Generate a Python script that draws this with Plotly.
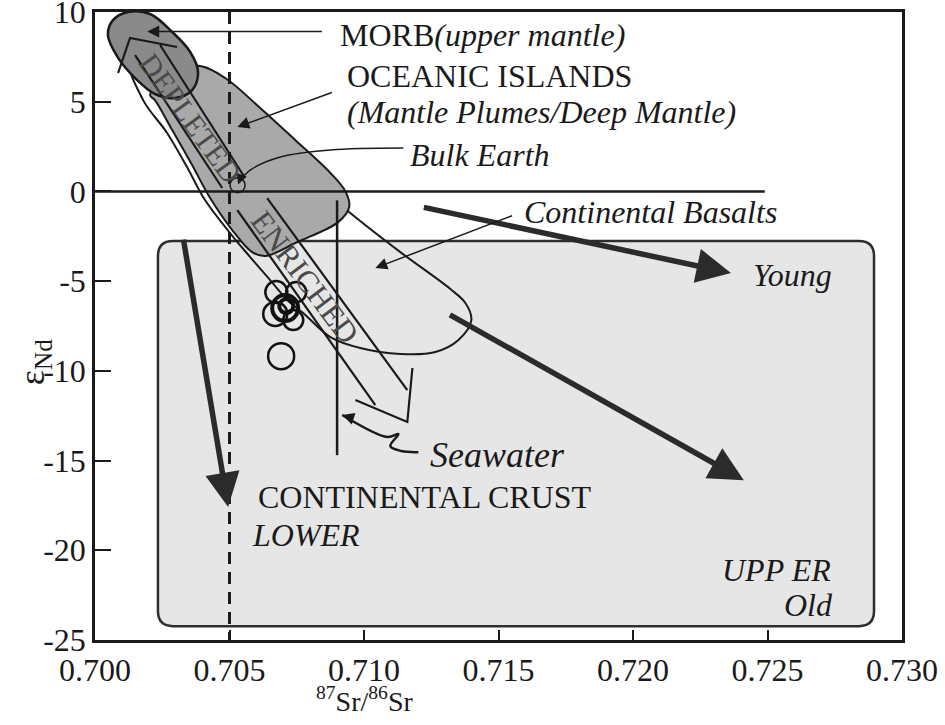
import plotly.graph_objects as go

SERIF = "Liberation Serif, Times New Roman, serif"
INK = "#1a1a1a"

# axes
x_ticks = [0.700, 0.705, 0.710, 0.715, 0.720, 0.725, 0.730]
x_ticktext = ["0.700", "0.705", "0.710", "0.715", "0.720", "0.725", "0.730"]
y_ticks = [10, 5, 0, -5, -10, -15, -20, -25]
y_ticktext = ["10", "5", "0", "-5", "-10", "-15", "-20", "-25"]

# field outlines (87Sr/86Sr, eps Nd)
morb_x = [0.70048, 0.70067, 0.70123, 0.70205, 0.70287, 0.70354, 0.70383, 0.70361,
          0.70298, 0.70223, 0.70149, 0.70086, 0.70048]
morb_y = [8.72, 9.55, 10.0, 9.89, 8.89, 7.77, 6.66, 5.65,
          5.21, 5.43, 6.32, 7.44, 8.72]

oib_x = [0.70205, 0.70279, 0.70391, 0.70484, 0.70614, 0.70744, 0.70875, 0.70931, 0.70945,
         0.70904, 0.70752, 0.70633, 0.70584, 0.70510, 0.70428, 0.70361, 0.70287, 0.70223, 0.70205]
oib_y = [5.37, 6.77, 6.99, 6.32, 4.65, 2.87, 1.03, 0.0, -0.87,
         -1.71, -2.82, -3.60, -3.38, -2.15, -0.37, 1.47, 3.42, 5.09, 5.37]

cb_x = [0.70130, 0.70179, 0.70268, 0.70342, 0.70409, 0.70502, 0.70577, 0.70651, 0.70715, 0.70774,
        0.70875, 0.70986, 0.71135, 0.71265, 0.71351, 0.71399, 0.71377, 0.71321, 0.71135, 0.70949,
        0.70763, 0.70465, 0.70242, 0.70130]
cb_y = [7.32, 5.09, 3.26, 1.36, -0.48, -2.32, -3.66, -4.94, -6.05, -6.78,
        -8.12, -8.73, -9.06, -8.95, -8.28, -7.17, -6.22, -5.44, -3.38, -1.20,
        1.19, 5.37, 7.60, 7.32]

# mantle array (double-line arrow, depleted / enriched)
mantle_x = [0.70086, 0.70130, 0.70305, None, 0.70149, 0.70473, None, 0.70242, 0.70558, None,
            0.70529, 0.71042, None, 0.70640, 0.71161, None, 0.70968, 0.71161, 0.71180]
mantle_y = [6.60, 8.55, 8.05, None, 7.60, 0.19, None, 8.16, 0.75, None,
            -1.04, -11.91, None, -0.37, -11.07, None, -11.63, -12.85, -9.84]

# data circles
circ_x = [0.70674, 0.70748, 0.70670, 0.70737, 0.70707, 0.70711, 0.70692]
circ_y = [-5.61, -5.61, -6.83, -7.17, -6.50, -6.39, -9.18]

bulk_earth = [0.70530, 0.35]

# reference lines
zero_x = [0.700, 0.7249]
zero_y = [0, 0]
be_line_x = [0.705, 0.705]
be_line_y = [10, -25]
sw_x = [0.709, 0.709]
sw_y = [-0.5, -14.7]

# pointer curves
squig_x = [0.70919, 0.71087, 0.71128, 0.71098, 0.71139, 0.71202]
squig_y = [-12.46, -13.69, -13.52, -14.19, -14.47, -14.53]
be_ptr_x = [0.71146, 0.70875, 0.70689, 0.70577, 0.70540]
be_ptr_y = [2.42, 2.31, 1.92, 1.19, 0.6]

# continental crust box
crust_x = [0.70234, 0.72896]
crust_y = [-24.23, -2.76]

# arrows: [tail, tip]
young_x, young_y = [0.71217, 0.72364], [-0.87, -4.55]
old_x, old_y = [0.71314, 0.72412], [-6.83, -16.09]
lower_x, lower_y = [0.70328, 0.70495], [-2.60, -17.59]
morb_ptr_x, morb_ptr_y = [0.70849, 0.70194], [8.92, 8.92]
oib_ptr_x, oib_ptr_y = [0.70886, 0.70529], [5.54, 3.59]
cb_ptr_x, cb_ptr_y = [0.71556, 0.71042], [-1.32, -4.27]
sw_ptr_x, sw_ptr_y = [0.70960, 0.70919], [-12.66, -12.46]
be_tip_x, be_tip_y = [0.70545, 0.70532], [0.9, 0.38]


def line_trace(x, y, width=2, dash="solid", spline=False, fill=None):
    return go.Scatter(
        x=x, y=y, mode="lines",
        line=dict(color=INK, width=width, dash=dash,
                  shape="spline" if spline else "linear", smoothing=1),
        fill="toself" if fill else "none", fillcolor=fill,
        hoverinfo="skip", showlegend=False)


fig = go.Figure()

# rounded crust box
x0, x1 = crust_x
y0, y1 = crust_y
rx, ry = 0.00056, 0.84
path = (f"M{x0 + rx},{y0} L{x1 - rx},{y0} Q{x1},{y0} {x1},{y0 + ry} "
        f"L{x1},{y1 - ry} Q{x1},{y1} {x1 - rx},{y1} L{x0 + rx},{y1} "
        f"Q{x0},{y1} {x0},{y1 - ry} L{x0},{y0 + ry} Q{x0},{y0} {x0 + rx},{y0} Z")
fig.add_shape(type="path", path=path, xref="x", yref="y", layer="below",
              fillcolor="#e6e6e6", line=dict(color="#2e2e2e", width=2.5))

fig.add_trace(line_trace(cb_x, cb_y, width=2, spline=True))
fig.add_trace(line_trace(oib_x, oib_y, width=2, spline=True, fill="#a9a9a9"))
fig.add_trace(line_trace(morb_x, morb_y, width=2.5, spline=True, fill="#8a8a8a"))
fig.add_trace(line_trace(mantle_x, mantle_y, width=2.2))
fig.add_trace(line_trace(sw_x, sw_y, width=2.5))
fig.add_trace(line_trace(zero_x, zero_y, width=2.5))
fig.add_trace(line_trace(be_line_x, be_line_y, width=3, dash="12px,8px"))
fig.add_trace(line_trace(squig_x, squig_y, width=2.5, spline=True))
fig.add_trace(line_trace(be_ptr_x, be_ptr_y, width=1.5, spline=True))

fig.add_trace(go.Scatter(
    x=circ_x, y=circ_y, mode="markers", hoverinfo="skip", showlegend=False,
    marker=dict(symbol="circle-open", color="#111111", opacity=1,
                size=[22, 20, 24, 20, 26, 14, 26],
                line=dict(color="#111111", width=[2.5, 2.5, 2.5, 2.5, 4, 4, 2.5]))))
fig.add_trace(go.Scatter(
    x=[bulk_earth[0]], y=[bulk_earth[1]], mode="markers", hoverinfo="skip", showlegend=False,
    marker=dict(symbol="circle-open", color=INK, opacity=1, size=15,
                line=dict(color=INK, width=1.5))))


def arrow(xs, ys, width, size, head=2, color=INK):
    fig.add_annotation(x=xs[1], y=ys[1], ax=xs[0], ay=ys[0],
                       xref="x", yref="y", axref="x", ayref="y", text="",
                       showarrow=True, arrowhead=head, arrowsize=size,
                       arrowwidth=width, arrowcolor=color, standoff=0)


arrow(young_x, young_y, 5.5, 1.25, color="#2b2b2b")
arrow(old_x, old_y, 5.5, 1.25, color="#2b2b2b")
arrow(lower_x, lower_y, 5.5, 1.25, color="#2b2b2b")
arrow(morb_ptr_x, morb_ptr_y, 1.5, 1.6)
arrow(oib_ptr_x, oib_ptr_y, 1.5, 1.6)
arrow(cb_ptr_x, cb_ptr_y, 1.5, 1.6)
arrow(sw_ptr_x, sw_ptr_y, 2, 1.2)
arrow(be_tip_x, be_tip_y, 1.5, 1.4)


def label(text, x, y, size=32, anchor="left", angle=0, color=INK):
    fig.add_annotation(x=x, y=y, xref="x", yref="y", text=text, showarrow=False,
                       xanchor=anchor, yanchor="middle", textangle=angle,
                       font=dict(family=SERIF, size=size, color=color))


label("MORB<i>(upper mantle)</i>", 0.70904, 8.72)
label("OCEANIC ISLANDS", 0.70931, 6.43)
label("<i>(Mantle Plumes/Deep Mantle)</i>", 0.70931, 4.43)
label("<i>Bulk Earth</i>", 0.71165, 2.03)
label("<i>Continental Basalts</i>", 0.71589, -1.15)
label("<i>Young</i>", 0.72438, -4.66)
label("<i>Seawater</i>", 0.71239, -14.69, size=36)
label("CONTINENTAL CRUST", 0.70599, -17.03)
label("<i>LOWER</i>", 0.70577, -19.15)
label("<i>UPP ER</i>", 0.72743, -21.1, anchor="right")
label("<i>Old</i>", 0.72750, -23.05, anchor="right")
label("DEPLETED", 0.70357, 4.09, size=30, anchor="center", angle=54, color="#4a4a4a")
label("ENRICHED", 0.70782, -4.77, size=31, anchor="center", angle=53, color="#4a4a4a")

# axis titles
fig.add_annotation(x=-0.074, y=-9.5, xref="paper", yref="y", text="ε<sub>Nd</sub>",
                   showarrow=False, textangle=-90, xanchor="center", yanchor="middle",
                   font=dict(family=SERIF, size=36, color=INK))
fig.add_annotation(x=0.710, y=-0.094, xref="x", yref="paper",
                   text="<sup>87</sup>Sr/<sup>86</sup>Sr", showarrow=False,
                   xanchor="center", yanchor="middle",
                   font=dict(family=SERIF, size=28, color=INK))

axis_common = dict(showline=True, linecolor=INK, linewidth=2.5, mirror=True,
                   showgrid=False, zeroline=False, ticks="inside", tickcolor=INK,
                   tickwidth=2, ticklabeloverflow="allow", automargin=False,
                   tickfont=dict(family=SERIF, size=32, color=INK))

fig.update_layout(
    width=945, height=725,
    margin=dict(l=95, r=43, t=12, b=85),
    paper_bgcolor="white", plot_bgcolor="white",
    showlegend=False,
    xaxis=dict(range=[0.700, 0.730], tickvals=x_ticks, ticktext=x_ticktext,
               ticklen=10, **axis_common),
    yaxis=dict(range=[-25, 10], tickvals=y_ticks, ticktext=y_ticktext,
               ticklen=16, **axis_common),
)

# drop the default 8px page margin so the figure sits at the window corner
fig.write_html("out.html", config={"displayModeBar": False},
               post_script="document.body.style.margin = '0';")
